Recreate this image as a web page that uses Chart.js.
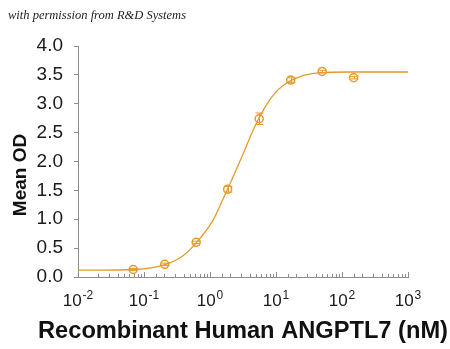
<!DOCTYPE html>
<html>
<head>
<meta charset="utf-8">
<script src="https://cdn.jsdelivr.net/npm/chart.js@4/dist/chart.umd.min.js"></script>
<style>
  html, body { margin: 0; padding: 0; background: #fff; }
  #wrap { position: relative; width: 450px; height: 349px; }
  #credit {
    position: absolute; left: 8px; top: 8px;
    font: italic 12.5px "Liberation Serif", serif; color: #222;
  }
</style>
</head>
<body>
<div id="wrap">
  <canvas id="chart" width="450" height="349"></canvas>
  <div id="credit">with permission from R&amp;D Systems</div>
</div>
<script>
// measured points (nM, mean OD, error)
const conc = [0.0686, 0.206, 0.617, 1.85, 5.56, 16.7, 50, 150];
const meanOD = [0.13, 0.22, 0.60, 1.52, 2.74, 3.41, 3.56, 3.45];
const errOD = [0.02, 0.02, 0.02, 0.05, 0.10, 0.04, 0.02, 0.02];

// fitted curve
const curveX = [0.01, 0.0215, 0.0705, 0.213, 0.372, 0.628, 1.12, 1.59, 2.25, 3.2, 4.53, 6.43, 9.1, 12.9, 23.1, 41.4, 132, 1000];
const curveY = [0.12, 0.12, 0.13, 0.22, 0.35, 0.60, 0.99, 1.36, 1.74, 2.14, 2.55, 2.89, 3.15, 3.32, 3.47, 3.53, 3.55, 3.55];

const yTicks = [0, 0.5, 1, 1.5, 2, 2.5, 3, 3.5, 4];
const decades = [-2, -1, 0, 1, 2, 3];

const xTitle = "Recombinant Human ANGPTL7 (nM)";
const yTitle = "Mean OD";

const orange = "#E69A28";
const axisGrey = "#8c8c8c";
const font = "'Liberation Sans', Arial, sans-serif";

// error bars, inward x ticks, power-of-ten labels and axis titles
const extras = {
  id: "extras",
  afterDatasetsDraw(chart) {
    const ctx = chart.ctx;
    const xs = chart.scales.x, ys = chart.scales.y;
    ctx.save();
    ctx.strokeStyle = orange;
    ctx.lineWidth = 1;
    conc.forEach((c, i) => {
      const px = Math.round(xs.getPixelForValue(c)) + 0.5;
      const top = ys.getPixelForValue(meanOD[i] + errOD[i]);
      const bot = ys.getPixelForValue(meanOD[i] - errOD[i]);
      ctx.beginPath();
      ctx.moveTo(px, top); ctx.lineTo(px, bot);
      ctx.moveTo(px - 4, top); ctx.lineTo(px + 4, top);
      ctx.moveTo(px - 4, bot); ctx.lineTo(px + 4, bot);
      ctx.stroke();
    });
    ctx.restore();
  },
  afterDraw(chart) {
    const ctx = chart.ctx;
    const xs = chart.scales.x;
    const area = chart.chartArea;
    ctx.save();
    ctx.strokeStyle = axisGrey;
    ctx.lineWidth = 1;
    ctx.beginPath();
    xs.ticks.forEach(t => {
      const px = Math.round(xs.getPixelForValue(t.value)) + 0.5;
      const lg = Math.log10(t.value);
      const major = Math.abs(lg - Math.round(lg)) < 1e-9;
      ctx.moveTo(px, area.bottom);
      ctx.lineTo(px, area.bottom - (major ? 5 : 3));
    });
    ctx.stroke();

    ctx.fillStyle = "#1a1a1a";
    ctx.textBaseline = "alphabetic";
    decades.forEach(p => {
      const px = xs.getPixelForValue(Math.pow(10, p));
      ctx.font = "17px " + font;
      const bw = ctx.measureText("10").width;
      ctx.font = "12px " + font;
      const exp = String(p);
      const ew = ctx.measureText(exp).width;
      const x0 = px - (bw + ew + 1) / 2;
      ctx.font = "17px " + font;
      ctx.fillText("10", x0, 306);
      ctx.font = "12px " + font;
      ctx.fillText(exp, x0 + bw + 1, 299);
    });

    // x title, slightly widened like the original
    ctx.fillStyle = "#111";
    ctx.font = "bold 23px " + font;
    ctx.textAlign = "center";
    const w = ctx.measureText(xTitle).width;
    const sx = 410 / w;
    ctx.save();
    ctx.translate(243, 338);
    ctx.scale(sx, 1);
    ctx.fillText(xTitle, 0, 0);
    ctx.restore();

    // y title
    ctx.save();
    ctx.translate(26, 175);
    ctx.rotate(-Math.PI / 2);
    ctx.font = "bold 19px " + font;
    ctx.fillText(yTitle, 0, 0);
    ctx.restore();
    ctx.restore();
  }
};

new Chart(document.getElementById("chart"), {
  data: {
    datasets: [
      {
        type: "line",
        data: curveX.map((x, i) => ({ x: x, y: curveY[i] })),
        borderColor: orange,
        borderWidth: 1.3,
        pointRadius: 0,
        cubicInterpolationMode: "monotone",
        fill: false
      },
      {
        type: "scatter",
        data: conc.map((x, i) => ({ x: x, y: meanOD[i] })),
        borderColor: orange,
        backgroundColor: "rgba(0,0,0,0)",
        borderWidth: 1.5,
        pointRadius: 4
      }
    ]
  },
  options: {
    responsive: false,
    animation: false,
    layout: { padding: { left: 0, right: 42, top: 46, bottom: 0 } },
    plugins: { legend: { display: false }, tooltip: { enabled: false } },
    scales: {
      x: {
        type: "logarithmic",
        min: 0.01,
        max: 1000,
        border: { color: axisGrey, width: 1 },
        grid: { drawOnChartArea: false, drawTicks: false },
        ticks: { display: false, autoSkip: false },
        afterFit(s) { s.height = 72; }
      },
      y: {
        min: 0,
        max: 4,
        border: { color: axisGrey, width: 1 },
        grid: { drawOnChartArea: false, color: axisGrey, tickLength: 4 },
        afterBuildTicks(s) { s.ticks = yTicks.map(v => ({ value: v })); },
        ticks: {
          color: "#1a1a1a",
          padding: 11,
          font: { family: font, size: 19 },
          callback: v => v.toFixed(1)
        },
        afterFit(s) { s.width = 78; }
      }
    }
  },
  plugins: [extras]
});
</script>
</body>
</html>
